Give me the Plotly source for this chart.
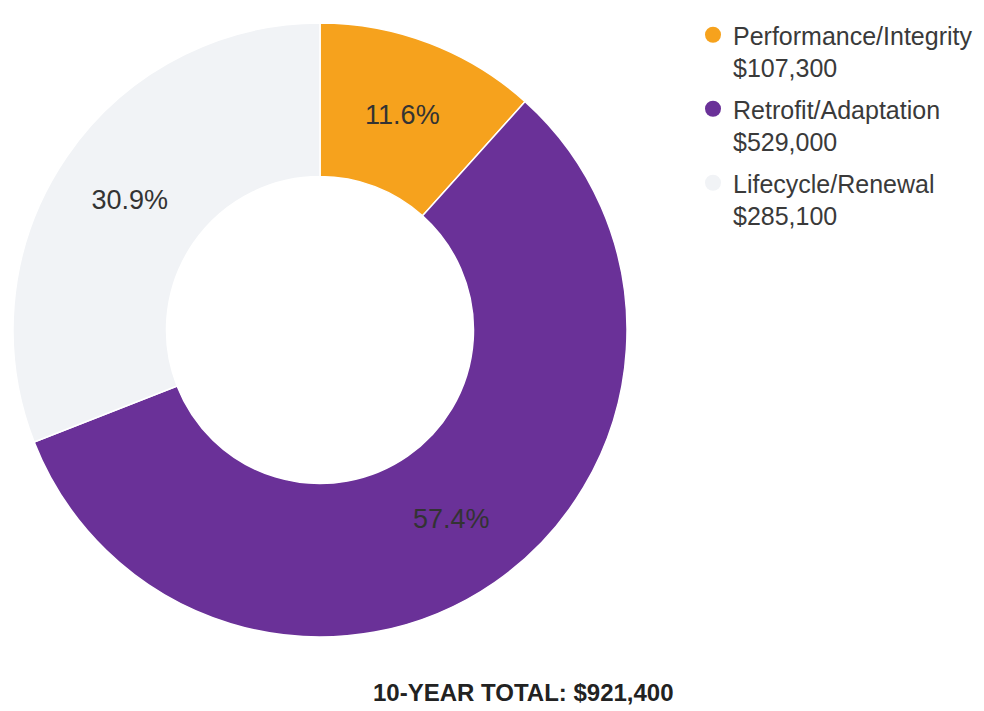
import plotly.graph_objects as go

# Ten-year capital budget split by category
categories = ["Performance/Integrity", "Retrofit/Adaptation", "Lifecycle/Renewal"]
amounts = [107300, 529000, 285100]
colors = ["#F6A21D", "#6A3198", "#F1F3F6"]

total = sum(amounts)
FONT = "Liberation Sans, Arial, sans-serif"

fig = go.Figure()

fig.add_trace(go.Pie(
    labels=categories,
    values=amounts,
    sort=False,
    direction="clockwise",
    rotation=0,
    hole=0.5,
    marker=dict(colors=colors, line=dict(color="#FFFFFF", width=1.5)),
    texttemplate="%{percent:.1%}",
    textposition="inside",
    insidetextorientation="horizontal",
    textfont=dict(family=FONT, size=27, color="#333333"),
    showlegend=False,
    hoverinfo="label+value+percent",
    domain=dict(x=[13 / 984, 627 / 984], y=[1 - 637 / 711, 1 - 23 / 711]),
))

# Legend entries: circle swatch with the category name and its amount
for cat, amt, col in zip(categories, amounts, colors):
    fig.add_trace(go.Scatter(
        x=[None], y=[None],
        mode="markers",
        marker=dict(symbol="circle", size=16, color=col),
        name=f"{cat}<br>${amt:,}",
        legendgroup=cat,
        showlegend=True,
        hoverinfo="skip",
    ))

fig.update_layout(
    width=984,
    height=711,
    margin=dict(l=0, r=0, t=0, b=0),
    paper_bgcolor="#FFFFFF",
    plot_bgcolor="#FFFFFF",
    xaxis=dict(visible=False),
    yaxis=dict(visible=False),
    legend=dict(
        x=693 / 984,
        y=1 - 12 / 711,
        xanchor="left",
        yanchor="top",
        valign="top",
        tracegroupgap=6,
        font=dict(family=FONT, size=25, color="#3A3A3A"),
        bgcolor="rgba(0,0,0,0)",
    ),
    annotations=[dict(
        text=f"<b>10-YEAR TOTAL: ${total:,}</b>",
        xref="paper", yref="paper",
        x=523 / 984, y=3 / 711,
        xanchor="center", yanchor="bottom",
        showarrow=False,
        font=dict(family=FONT, size=24, color="#222222"),
    )],
)

fig.write_html("out.html")
